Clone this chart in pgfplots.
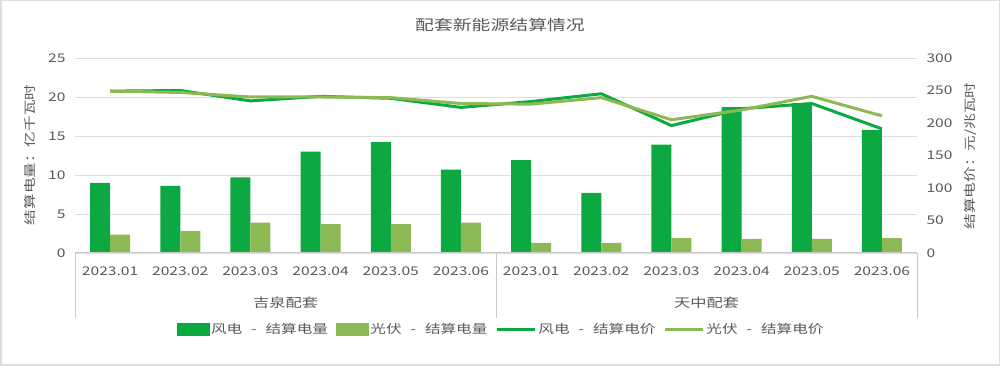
\documentclass[border=0pt]{standalone}
\usepackage{fontspec}
\setmainfont[FakeStretch=1.3]{Noto Sans CJK SC}
\usepackage{pgfplots}
\pgfplotsset{compat=1.18}
\definecolor{wind}{RGB}{12,168,66}
\definecolor{solar}{RGB}{141,185,84}
\definecolor{txt}{RGB}{89,89,89}
\definecolor{grd}{RGB}{222,222,222}
\definecolor{axl}{RGB}{200,200,200}
\newcommand{\sep}{\hspace{9pt}-\hspace{9pt}}
\begin{document}
\begin{tikzpicture}[x=1pt,y=1pt]
\draw[grd, line width=1.5pt] (0.75,0.75) rectangle (999.25,365.25);
\node[txt, font=\fontsize{14.5}{16}\selectfont] at (500,341) {配套新能源结算情况};
\begin{axis}[at={(75pt,113pt)}, anchor=south west, width=842pt, height=195pt, scale only axis,
  xmin=-0.5, xmax=11.5, ymin=0, ymax=25, clip=false,
  xtick={0,...,11},
  xticklabels={2023.01,2023.02,2023.03,2023.04,2023.05,2023.06,2023.01,2023.02,2023.03,2023.04,2023.05,2023.06},
  ytick={0,5,...,25},
  ymajorgrids, grid style={grd, line width=0.8pt},
  axis line style={draw=none}, tick style={draw=none},
  /pgf/number format/assume math mode=true,
  ticklabel style={font=\fontsize{12}{14}\selectfont, text=txt},
  xticklabel style={yshift=-10pt},
  yticklabel style={xshift=-6pt},
]
\addplot[ybar, fill=wind, draw=none, bar width=20pt, bar shift=-10pt] coordinates {
(0,9.0) (1,8.6) (2,9.7) (3,13.0) (4,14.2) (5,10.7) (6,11.9) (7,7.7) (8,13.9) (9,18.7) (10,19.2) (11,15.8)};
\addplot[ybar, fill=solar, draw=none, bar width=20pt, bar shift=10pt] coordinates {
(0,2.35) (1,2.8) (2,3.9) (3,3.7) (4,3.7) (5,3.9) (6,1.3) (7,1.3) (8,1.9) (9,1.8) (10,1.8) (11,1.9)};
\draw[axl, line width=1pt] (axis cs:-0.5,0) -- (axis cs:11.5,0);
\draw[axl, line width=0.8pt] (axis cs:-0.5,0) -- ++(0pt,-65pt);
\draw[axl, line width=0.8pt] (axis cs:5.5,0) -- ++(0pt,-65pt);
\draw[axl, line width=0.8pt] (axis cs:11.5,0) -- ++(0pt,-65pt);
\node[txt, font=\fontsize{12.5}{14}\selectfont] at ([yshift=-50pt]axis cs:2.5,0) {吉泉配套};
\node[txt, font=\fontsize{12.5}{14}\selectfont] at ([yshift=-50pt]axis cs:8.5,0) {天中配套};
\end{axis}
\begin{axis}[at={(75pt,113pt)}, anchor=south west, width=842pt, height=195pt, scale only axis,
  xmin=-0.5, xmax=11.5, ymin=0, ymax=300, clip=false,
  xtick=\empty, ytick={0,50,...,300}, yticklabel pos=right,
  axis line style={draw=none}, tick style={draw=none},
  /pgf/number format/assume math mode=true,
  ticklabel style={font=\fontsize{12}{14}\selectfont, text=txt},
  yticklabel style={xshift=6pt},
  legend columns=4,
  legend style={at={(0.506,-0.39)}, anchor=center, draw=none, fill=none,
    font=\fontsize{12}{14}\selectfont, text=txt,
    /tikz/every even column/.append style={column sep=6pt},
    nodes={inner sep=2pt}},
]
\addlegendimage{legend image code/.code={\fill[wind] (0pt,-6pt) rectangle (32pt,6pt);}}
\addlegendentry{风电\sep 结算电量}
\addlegendimage{legend image code/.code={\fill[solar] (0pt,-6pt) rectangle (32pt,6pt);}}
\addlegendentry{光伏\sep 结算电量}
\addplot[wind, line width=3pt, line join=round, legend image code/.code={\draw[wind, line width=3pt] (0pt,0pt) -- (38pt,0pt);}] coordinates {
(0,249) (1,250) (2,234) (3,241) (4,238) (5,224) (6,233) (7,245) (8,196) (9,222) (10,230) (11,191)};
\addlegendentry{风电\sep 结算电价}
\addplot[solar, line width=3pt, line join=round, legend image code/.code={\draw[solar, line width=3pt] (0pt,0pt) -- (38pt,0pt);}] coordinates {
(0,249) (1,247) (2,240) (3,240) (4,239) (5,230) (6,229) (7,239) (8,205) (9,220) (10,241) (11,211)};
\addlegendentry{光伏\sep 结算电价}
\end{axis}
\node[txt, rotate=90, font=\fontsize{12}{14}\selectfont] at (30,211) {结算电量：亿千瓦时};
\node[txt, rotate=90, font=\fontsize{12}{14}\selectfont] at (970,210) {结算电价：元/兆瓦时};
\end{tikzpicture}
\end{document}
